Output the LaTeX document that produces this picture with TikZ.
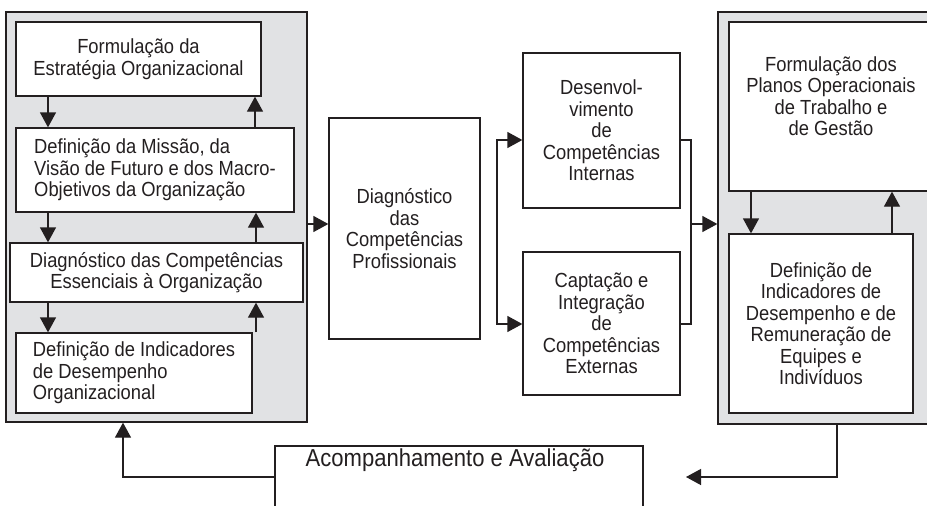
\documentclass[tikz,border=0pt]{standalone}
\usepackage{fontspec}
\setmainfont{Liberation Sans}
\newfontfamily\tallsans[FakeStretch=0.9]{Liberation Sans}
\usetikzlibrary{arrows.meta}
\definecolor{panelgray}{RGB}{225,226,228}
\definecolor{ink}{RGB}{35,31,32}
\begin{document}
\begin{tikzpicture}[x=1pt,y=-1pt,
  boxfont/.style={font=\tallsans\fontsize{20.4}{21.5}\selectfont},
  box/.style={draw=ink, line width=1.3pt, fill=white, inner sep=0pt, align=center,
    text=ink, boxfont},
  lbox/.style={box, align=left},
  panel/.style={draw=ink, line width=1.3pt, fill=panelgray, inner sep=0pt},
  arr/.style={draw=ink, line width=1.3pt, -{Triangle[length=15pt,width=16pt]}},
  conn/.style={draw=ink, line width=1.3pt}]
\useasboundingbox (0,0) rectangle (927,506);
\clip (0,0) rectangle (927,506);
\fill[white] (0,0) rectangle (927,506);

% panels
\node[panel, minimum width=301pt, minimum height=410pt] (panelL) at (156.5,217) {};
\node[panel, minimum width=217pt, minimum height=412pt] (panelR) at (826.5,218) {};

% left panel boxes
\node[box, minimum width=245pt, minimum height=74pt] (b1) at (138.5,59)
  {Formulação da\\Estratégia Organizacional};
\node[lbox, minimum width=278pt, minimum height=84pt] (b2) at (155,170)
  {Definição da Missão, da\\Visão de Futuro e dos Macro-\\Objetivos da Organização};
\node[box, minimum width=293pt, minimum height=59pt] (b3) at (156.5,272.5)
  {Diagnóstico das Competências\\Essenciais à Organização};
\node[lbox, minimum width=236pt, minimum height=80pt] (b4) at (134,373)
  {Definição de Indicadores\\de Desempenho\\Organizacional};

% middle
\node[box, minimum width=151pt, minimum height=221pt] (mid) at (404.5,228.5)
  {Diagnóstico\\das\\Competências\\Profissionais};
\node[box, minimum width=157pt, minimum height=155pt] (dev) at (601.5,130.5)
  {Desenvol-\\vimento\\de\\Competências\\Internas};
\node[box, minimum width=157pt, minimum height=143pt] (cap) at (601.5,323.5)
  {Captação e\\Integração\\de\\Competências\\Externas};

% right panel boxes
\node[box, minimum width=204pt, minimum height=169pt] (r1) at (831,106.5) {};
\node[align=center, text=ink, inner sep=0pt, boxfont] (r1t) at (831,96)
  {Formulação dos\\Planos Operacionais\\de Trabalho e\\de Gestão};
\node[box, minimum width=184pt, minimum height=179pt] (r2) at (821,323.5)
  {Definição de\\Indicadores de\\Desempenho e de\\Remuneração de\\Equipes e\\Indivíduos};

% bottom box
\node[box, minimum width=368pt, minimum height=94pt] (acbox) at (459,493) {};
\node[text=ink, inner sep=0pt, font=\tallsans\fontsize{24.5}{28}\selectfont] (actext) at (455,460)
  {Acompanhamento e Avaliação};

% helper coordinates
\coordinate (xl) at (48,0);
\coordinate (xr1) at (255,0);
\coordinate (xr2) at (256,0);
\coordinate (ym) at (0,224);
\coordinate (bt) at (497,140);
\coordinate (bb) at (497,324);
\coordinate (rx) at (691,0);
\coordinate (xd) at (751,0);
\coordinate (xu) at (892,0);
\coordinate (yb) at (0,477);
\coordinate (xb) at (837,0);
\coordinate (xa) at (123,0);
\coordinate (tipR) at (686,477);

% left panel arrows
\draw[arr] (b1.south -| xl) -- (b2.north -| xl);
\draw[arr] (b2.north -| xr1) -- (b1.south -| xr1);
\draw[arr] (b2.south -| xl) -- (b3.north -| xl);
\draw[arr] (b3.north -| xr2) -- (b2.south -| xr2);
\draw[arr] (b3.south -| xl) -- (b4.north -| xl);
\draw[arr] (b4.north -| xr2) -- (b3.south -| xr2);

% to middle
\draw[arr] (panelL.east |- ym) -- (mid.west |- ym);

% branch
\draw[arr] (bb) -- (bt) -- (bt -| dev.west);
\draw[arr] (bt) -- (bb) -- (bb -| cap.west);

% merge
\draw[conn] (dev.east |- bt) -| (rx |- bb) -- (cap.east |- bb);
\draw[arr] (rx |- ym) -- (panelR.west |- ym);

% right panel arrows
\draw[arr] (r1.south -| xd) -- (r2.north -| xd);
\draw[arr] (r2.north -| xu) -- (r1.south -| xu);

% feedback
\draw[arr] (panelR.south -| xb) |- (tipR);
\draw[arr] (acbox.west |- yb) -| (panelL.south -| xa);
\end{tikzpicture}
\end{document}
